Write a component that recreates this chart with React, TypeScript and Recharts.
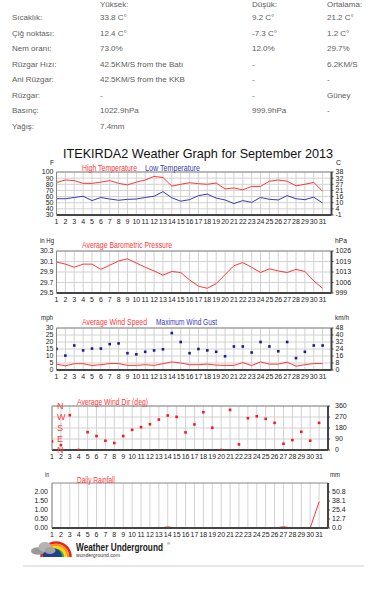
import React from 'react';
import { CartesianGrid, ComposedChart, Line, ReferenceLine, XAxis, YAxis } from 'recharts';

// days of the month
const DAYS = [1, 2, 3, 4, 5, 6, 7, 8, 9, 10, 11, 12, 13, 14, 15, 16, 17, 18, 19, 20, 21, 22, 23, 24, 25, 26, 27, 28, 29, 30, 31];

// temperature, F
const HIGH_F = [83, 87, 86, 81.5, 81.5, 83.5, 86, 81.5, 79, 83.5, 87, 92.8, 91, 77, 80, 82.5, 81, 80, 82, 72.5, 74, 71, 76.5, 76.5, 85, 87, 85, 77.5, 80, 83, 68.5];
const LOW_F = [56.5, 56.5, 58.5, 60.5, 53.5, 58.5, 56, 54, 55.5, 56, 58.5, 60.5, 68, 58, 52.5, 55, 61.5, 64, 57.5, 54.5, 48.6, 53.5, 50.5, 58.5, 55.5, 54.5, 61.5, 56.5, 55, 59, 49.5];

// pressure, inHg
const PRESSURE = [30.09, 30.05, 29.99, 30.05, 30.05, 29.95, 30.03, 30.11, 30.15, 30.07, 29.99, 29.92, 29.84, 29.91, 29.89, 29.75, 29.63, 29.59, 29.68, 29.85, 30.02, 30.08, 29.99, 29.89, 29.96, 29.92, 29.89, 29.95, 29.91, 29.73, 29.59];

// wind, mph
const WIND_AVG = [4.2, 3, 4.5, 4.5, 3.2, 3.8, 4.6, 4.6, 3.3, 3.3, 3.8, 3.3, 4.5, 5.8, 5, 3.8, 3.8, 4.2, 3.5, 3.3, 3.3, 5.3, 3.2, 5.8, 4.2, 4.2, 5.6, 2.7, 3.8, 4.6, 4.6];
const WIND_GUST = [15.1, 10.3, 17.5, 14, 15.3, 15.3, 18.5, 19, 12, 11.2, 13, 14, 14.8, 26.4, 20, 12, 15, 14, 13, 9.8, 16.8, 16.8, 12.5, 20, 16.8, 13.4, 20, 8.5, 13, 17.5, 17.5];

// wind direction, degrees
const WIND_DIR = [70, 40, 285, 0, 146, 114, 76, 57, 114, 165, 187, 211, 249, 282, 271, 144, 209, 309, 182, 0, 328, 46, 260, 276, 255, 222, 51, 81, 149, 76, 222];

// rainfall, in
const RAIN = [0, 0, 0, 0, 0, 0, 0, 0, 0, 0, 0, 0, 0, 0.06, 0, 0, 0, 0, 0, 0, 0, 0, 0, 0, 0, 0, 0.07, 0, 0, 0, 1.46];

const TEMP_TICKS = [30, 40, 50, 60, 70, 80, 90, 100];
const PRESS_TICKS = [29.5, 29.7, 29.9, 30.1, 30.3];
const WIND_TICKS = [0, 5, 10, 15, 20, 25, 30];
const DIR_TICKS = [0, 90, 180, 270, 360];
const DIR_NAMES = ['N', 'E', 'S', 'W', 'N'];
const RAIN_TICKS = [0, 0.5, 1, 1.5, 2];

// summary table
const STAT_HEAD = ['Yüksek:', 'Düşük:', 'Ortalama:'];
const STAT_LABELS = ['Sıcaklık:', 'Çiğ noktası:', 'Nem oranı:', 'Rüzgar Hızı:', 'Ani Rüzgar:', 'Rüzgar:', 'Basınç:', 'Yağış:'];
const STAT_HIGH = ['33.8 C°', '12.4 C°', '73.0%', '42.5KM/S from the Batı', '42.5KM/S from the KKB', '-', '1022.9hPa', '7.4mm'];
const STAT_LOW = ['9.2 C°', '-7.3 C°', '12.0%', '-', '-', '-', '999.9hPa', ''];
const STAT_AVG = ['21.2 C°', '1.2 C°', '29.7%', '6.2KM/S', '-', 'Güney', '-', ''];

const FONT = '"Liberation Sans", Arial, sans-serif';
const RED = '#ff3838';
const BLUE = '#3a3ab8';

const tempData = DAYS.map((day, i) => ({ day, high: HIGH_F[i], low: LOW_F[i] }));
const pressData = DAYS.map((day, i) => ({ day, p: PRESSURE[i] }));
const windData = DAYS.map((day, i) => ({ day, avg: WIND_AVG[i], gust: WIND_GUST[i] }));
const degData = DAYS.map((day, i) => ({ day, deg: WIND_DIR[i] }));
const rainData = DAYS.map((day, i) => ({ day, rain: RAIN[i] }));

type ChartProps = {
	top: number;
	plotH: number;
	plotLeft: number;
	plotRight: number;
	data: any[];
	domain: [number, number];
	ticks: number[];
	leftFmt: (v: number) => string;
	rightFmt: (v: number) => string;
	rightKey: string;
	hGrid?: boolean;
	compass?: boolean;
	leftGap?: number;
	rightDx?: number;
	children: React.ReactNode;
};

const TICK = { fontSize: 7, fill: '#1a1a1a', fontFamily: FONT };
// compass letters sit just inside the left edge of the plot
const COMPASS_TICK = { fontSize: 9, fill: RED, fontFamily: FONT, textAnchor: 'start', dx: 5 };

function WxChart(p: ChartProps) {
	const mTop = 6;
	const xH = 14;
	return (
		<div style={{ position: 'absolute', left: 0, top: p.top - mTop }}>
			<ComposedChart width={372} height={p.plotH + mTop + xH} data={p.data} margin={{ top: mTop, right: 0, bottom: 0, left: 0 }}>
				<CartesianGrid yAxisId="l" stroke="#d2d2d2" horizontal={p.hGrid !== false} />
				<XAxis
					dataKey="day"
					type="number"
					domain={[1, 32]}
					ticks={DAYS}
					interval={0}
					allowDataOverflow
					height={xH}
					tickSize={0}
					tickMargin={4}
					tick={TICK}
					axisLine={{ stroke: '#444', strokeWidth: 2 }}
				/>
				<YAxis
					yAxisId="l"
					width={p.plotLeft}
					domain={p.domain}
					ticks={p.ticks}
					interval={0}
					allowDataOverflow
					tickFormatter={p.leftFmt}
					tickSize={0}
					tickMargin={p.compass ? 0 : p.leftGap ?? 3}
					tick={p.compass ? COMPASS_TICK : TICK}
					axisLine={{ stroke: '#888' }}
				/>
				<YAxis
					yAxisId="r"
					orientation="right"
					width={372 - p.plotRight}
					domain={p.domain}
					ticks={p.ticks}
					interval={0}
					allowDataOverflow
					tickFormatter={p.rightFmt}
					tickSize={2}
					tickMargin={2}
					tickLine={{ stroke: '#444' }}
					tick={{ ...TICK, dx: p.rightDx ?? 0 }}
					axisLine={{ stroke: '#444', strokeWidth: 2 }}
				/>
				<ReferenceLine yAxisId="l" y={p.domain[1]} stroke="#888" />
				{p.children}
				<Line yAxisId="r" dataKey={p.rightKey} stroke={RED} strokeWidth={0} dot={false} activeDot={false} isAnimationActive={false} />
			</ComposedChart>
		</div>
	);
}

const square = (color: string) => (d: any) => (
	<rect key={d.index} x={d.cx - 1.3} y={d.cy - 1.3} width={2.6} height={2.6} fill={color} />
);

// condensed text: scaled horizontally, then fitted to the measured width
function Label({ x, y, w, size = 9.5, sx = 0.75, fill = '#222', bold = false, children }: any) {
	return (
		<g transform={`translate(${x},${y}) scale(${sx},1)`}>
			<text x={0} y={0} fontSize={size} fill={fill} fontFamily={FONT} fontWeight={bold ? 700 : 400} textLength={w / sx} lengthAdjust="spacingAndGlyphs">
				{children}
			</text>
		</g>
	);
}

export default function App() {
	// row centres: header, then 8 rows
	const rowY = (i: number) => (i === 0 ? 5 : 18 + (i - 1) * 15.5);
	const cell = (x: number, i: number, text: string, key: string) => (
		<div key={key} style={{ position: 'absolute', left: x, top: rowY(i) - 5, fontSize: 8, lineHeight: '10px', whiteSpace: 'nowrap', color: '#606060' }}>
			{text}
		</div>
	);

	return (
		<div style={{ position: 'absolute', left: 0, top: 0, width: 372, height: 598, background: '#fff', overflow: 'hidden', fontFamily: FONT }}>
			{cell(100, 0, STAT_HEAD[0], 'h0')}
			{cell(252, 0, STAT_HEAD[1], 'h1')}
			{cell(327, 0, STAT_HEAD[2], 'h2')}
			{STAT_LABELS.map((l, i) => (
				<React.Fragment key={l}>
					{cell(12, i + 1, l, 'l' + i)}
					{cell(100, i + 1, STAT_HIGH[i], 'a' + i)}
					{cell(252, i + 1, STAT_LOW[i], 'b' + i)}
					{cell(327, i + 1, STAT_AVG[i], 'c' + i)}
				</React.Fragment>
			))}

			<WxChart
				top={172}
				plotH={43}
				plotLeft={56.5}
				plotRight={331.5}
				data={tempData}
				domain={[30, 100]}
				ticks={TEMP_TICKS}
				leftFmt={(v) => String(v)}
				rightFmt={(v) => String(Math.round(((v - 32) * 5) / 9))}
				rightKey="high"
			>
				<Line yAxisId="l" dataKey="high" stroke={RED} strokeWidth={1} dot={false} isAnimationActive={false} />
				<Line yAxisId="l" dataKey="low" stroke={BLUE} strokeWidth={1} dot={false} isAnimationActive={false} />
			</WxChart>

			<WxChart
				top={251}
				plotH={42}
				plotLeft={56.5}
				plotRight={331.5}
				data={pressData}
				domain={[29.5, 30.3]}
				ticks={PRESS_TICKS}
				leftFmt={(v) => v.toFixed(1)}
				rightFmt={(v) => String(Math.round(v * 33.8639))}
				rightKey="p"
			>
				<Line yAxisId="l" dataKey="p" stroke={RED} strokeWidth={1} dot={false} isAnimationActive={false} />
			</WxChart>

			<WxChart
				top={328}
				plotH={42}
				plotLeft={56.5}
				plotRight={331.5}
				data={windData}
				domain={[0, 30]}
				ticks={WIND_TICKS}
				leftFmt={(v) => String(v)}
				rightFmt={(v) => String(Math.round(v * 1.609))}
				rightKey="avg"
			>
				<Line yAxisId="l" dataKey="avg" stroke={RED} strokeWidth={1} dot={false} isAnimationActive={false} />
				<Line yAxisId="l" dataKey="gust" stroke={BLUE} strokeWidth={0} dot={square('#1c1c8e')} activeDot={false} isAnimationActive={false} />
			</WxChart>

			<WxChart
				top={406}
				plotH={44}
				plotLeft={52}
				plotRight={328}
				data={degData}
				domain={[0, 360]}
				ticks={DIR_TICKS}
				compass
				rightDx={3}
				leftFmt={(v) => DIR_NAMES[DIR_TICKS.indexOf(v)] ?? ''}
				rightFmt={(v) => String(v)}
				rightKey="deg"
			>
				{/* stroked series with no values: draws nothing */}
				<Line yAxisId="l" dataKey="none" stroke={RED} strokeWidth={1} dot={false} activeDot={false} isAnimationActive={false} />
				<Line yAxisId="l" dataKey="deg" stroke={RED} strokeWidth={0} dot={square('#f21a1a')} activeDot={false} isAnimationActive={false} />
			</WxChart>

			<WxChart
				top={483}
				plotH={45}
				plotLeft={52}
				plotRight={328}
				data={rainData}
				domain={[0, 2.5]}
				ticks={RAIN_TICKS}
				hGrid={false}
				leftGap={4}
				leftFmt={(v) => v.toFixed(2)}
				rightFmt={(v) => (v * 25.4).toFixed(1)}
				rightKey="rain"
			>
				<Line yAxisId="l" dataKey="rain" stroke={RED} strokeWidth={1} dot={false} isAnimationActive={false} />
			</WxChart>

			<svg width={372} height={598} style={{ position: 'absolute', left: 0, top: 0, pointerEvents: 'none' }}>
				<Label x={63} y={157.5} w={270} size={13} sx={0.97} fill="#111">ITEKIRDA2 Weather Graph for September 2013</Label>
				<Label x={50} y={165} w={4} size={7} sx={1}>F</Label>
				<Label x={336} y={165} w={5} size={7} sx={1}>C</Label>
				<Label x={82} y={170.5} w={55} fill={RED}>High Temperature</Label>
				<Label x={145} y={170.5} w={55} fill={BLUE}>Low Temperature</Label>

				<Label x={40} y={242.5} w={14} size={7.5} sx={0.85}>in Hg</Label>
				<Label x={335} y={242.5} w={12} size={7.5} sx={0.85}>hPa</Label>
				<Label x={82} y={247.5} w={90} fill={RED}>Average Barometric Pressure</Label>

				<Label x={41} y={319.5} w={12} size={7.5} sx={0.85}>mph</Label>
				<Label x={335} y={319.5} w={14} size={7.5} sx={0.85}>km/h</Label>
				<Label x={82} y={324.5} w={65} fill={RED}>Average Wind Speed</Label>
				<Label x={156} y={324.5} w={61} fill={BLUE}>Maximum Wind Gust</Label>

				<Label x={77} y={405} w={71} fill={RED}>Average Wind Dir (deg)</Label>

				<Label x={45} y={476.5} w={4} size={7.5} sx={0.85}>in</Label>
				<Label x={330} y={476.5} w={10} size={7.5} sx={0.85}>mm</Label>
				<Label x={77} y={482.5} w={38} fill={RED}>Daily Rainfall</Label>

				{/* Weather Underground logo */}
				<g fill="none">
					<path d="M41.5,557 A14.5,14.5 0 0 1 70.5,557" stroke="#e4261f" strokeWidth={2.6} />
					<path d="M44,557 A12,12 0 0 1 68,557" stroke="#f7941d" strokeWidth={2.6} />
					<path d="M46.5,557 A9.5,9.5 0 0 1 65.5,557" stroke="#ffd500" strokeWidth={2.6} />
					<path d="M49,557 A7,7 0 0 1 63,557" stroke="#3aa84a" strokeWidth={2.4} />
				</g>
				<path d="M44,557 A6,6 0 0 1 62,557 Z" fill="#1f3f8f" />
				<rect x={43} y={552} width={17} height={5} fill="#1f3f8f" />
				<ellipse cx={38} cy={551} rx={7} ry={3.8} fill="#9a9a9a" />
				<ellipse cx={45} cy={547} rx={6.5} ry={5} fill="#b4b4b4" />
				<ellipse cx={50} cy={550.5} rx={5.5} ry={3.5} fill="#a2a2a2" />
				<Label x={76} y={551} w={87} size={11} bold fill="#1a1a1a">Weather Underground</Label>
				<Label x={167} y={544.5} w={3} size={4} sx={1}>®</Label>
				<Label x={76} y={557} w={44} size={5} sx={0.9} fill="#333">wunderground.com</Label>
				<line x1={23} y1={566} x2={364} y2={566} stroke="#cfcfcf" strokeWidth={1.2} />
			</svg>
		</div>
	);
}
